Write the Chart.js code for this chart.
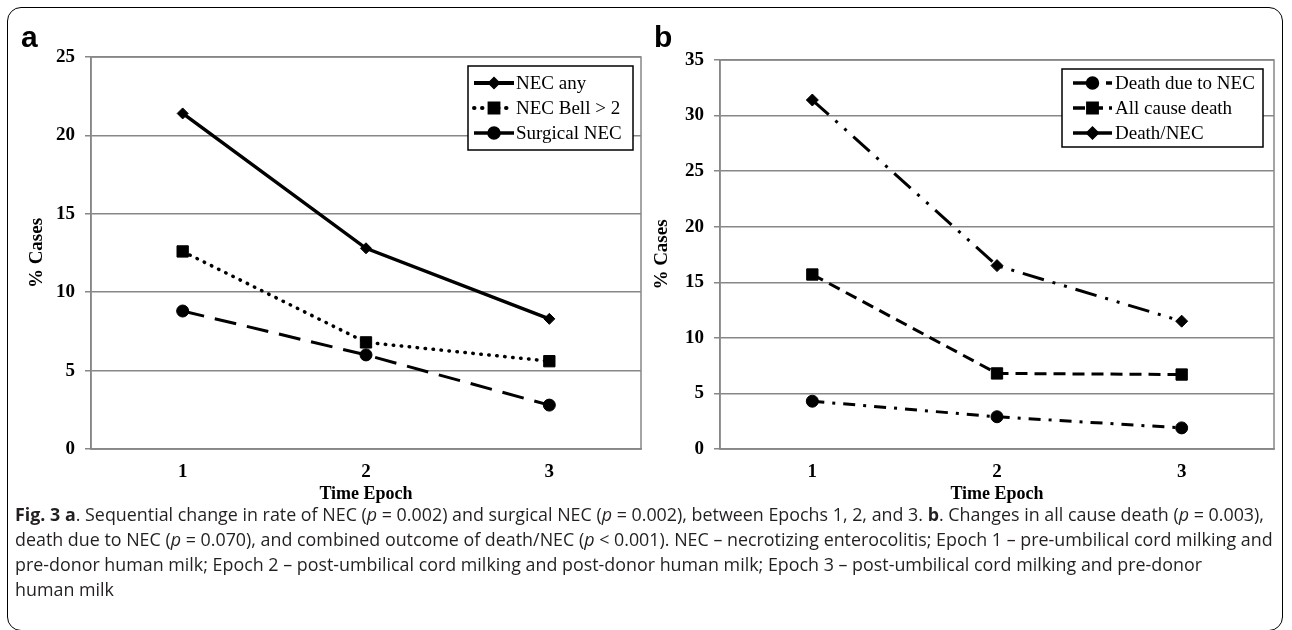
<!DOCTYPE html>
<html><head><meta charset="utf-8">
<script src="https://cdn.jsdelivr.net/npm/chart.js@4/dist/chart.umd.min.js"></script>
<style>
html,body{margin:0;padding:0;background:#fff;}
body{width:1292px;height:630px;position:relative;overflow:hidden;}
#frame{position:absolute;left:7px;top:7px;width:1276px;height:624px;border:1.5px solid #000;border-radius:14px;box-sizing:border-box;}
.panel{position:absolute;font-family:"Liberation Sans",Arial,sans-serif;font-weight:bold;font-size:30px;line-height:30px;}
#cA{position:absolute;left:0;top:0;}
#cB{position:absolute;left:630px;top:0;}
#caption{position:absolute;left:15px;top:502px;font-family:"Open Sans",sans-serif;font-size:17.5px;line-height:25px;color:#231f20;white-space:nowrap;transform-origin:0 0;}
#caption div{white-space:nowrap;}
#caption b{font-weight:700;}
</style></head>
<body>
<div id="frame"></div>
<canvas id="cA" width="650" height="510"></canvas>
<canvas id="cB" width="662" height="510"></canvas>
<div class="panel" style="left:21px;top:22px;">a</div>
<div class="panel" style="left:654px;top:22px;">b</div>
<div id="caption">
<div><span id="l1"><b>Fig. 3 a</b>. Sequential change in rate of NEC (<i>p</i> = 0.002) and surgical NEC (<i>p</i> = 0.002), between Epochs 1, 2, and 3. <b>b</b>. Changes in all cause death (<i>p</i> = 0.003),</span></div>
<div>death due to NEC (<i>p</i> = 0.070), and combined outcome of death/NEC (<i>p</i> &lt; 0.001). NEC – necrotizing enterocolitis; Epoch 1 – pre-umbilical cord milking and</div>
<div>pre-donor human milk; Epoch 2 – post-umbilical cord milking and post-donor human milk; Epoch 3 – post-umbilical cord milking and pre-donor</div>
<div>human milk</div>
</div>
<script>
// ---- data ----
const epochs = ['1', '2', '3'];
const necAny = [21.4, 12.8, 8.3];
const necBell = [12.6, 6.8, 5.6];
const surgicalNec = [8.8, 6.0, 2.8];
const deathDueToNec = [4.3, 2.9, 1.9];
const allCauseDeath = [15.7, 6.8, 6.7];
const deathOrNec = [31.4, 16.5, 11.5];
const labelsA = ['NEC any', 'NEC Bell > 2', 'Surgical NEC'];
const labelsB = ['Death due to NEC', 'All cause death', 'Death/NEC'];
const yMaxA = 25, yMaxB = 35, yStep = 5;

Chart.defaults.font.family = '"Liberation Serif","Times New Roman",serif';
Chart.defaults.color = '#000';
const GRID = '#878787';

// condense caption horizontally to the reference line width
(function(){
  const l1 = document.getElementById('l1');
  const w = l1.getBoundingClientRect().width;
  const target = 1249;
  document.getElementById('caption').style.transform = 'scaleX(' + (target / w).toFixed(4) + ')';
})();

const plotPlugin = {
  id: 'plotDecor',
  beforeDatasetsDraw(chart) {
    const {ctx, chartArea: a} = chart;
    ctx.save();
    ctx.strokeStyle = GRID; ctx.lineWidth = 1.5;
    ctx.strokeRect(a.left, a.top, a.right - a.left, a.bottom - a.top);
    ctx.restore();
  },
  afterDraw(chart, args, opts) {
    const {ctx, chartArea: a} = chart;
    const bx = a.right - opts.dx, by = a.top + opts.dy;
    ctx.save();
    ctx.fillStyle = '#fff';
    ctx.fillRect(bx, by, opts.w, opts.h);
    ctx.strokeStyle = '#000'; ctx.lineWidth = 1.5;
    ctx.strokeRect(bx, by, opts.w, opts.h);
    chart.data.datasets.forEach((ds, i) => {
      const y = by + opts.firstRow + i * opts.rowH;
      const x0 = bx + opts.s0, x1 = bx + opts.s1, xm = (x0 + x1) / 2;
      ctx.save();
      ctx.strokeStyle = '#000';
      ctx.lineWidth = ds.borderWidth + 0.5;
      ctx.lineCap = ds.borderCapStyle || 'butt';
      ctx.setLineDash(ds.legendDash || ds.borderDash || []);
      ctx.beginPath(); ctx.moveTo(x0, y); ctx.lineTo(x1, y); ctx.stroke();
      ctx.restore();
      ctx.fillStyle = '#000'; ctx.strokeStyle = '#000';
      Chart.helpers.drawPoint(ctx, {pointStyle: ds.pointStyle, radius: ds.pointRadius, rotation: 0, borderWidth: 1}, xm, y);
      ctx.fillStyle = '#000';
      ctx.font = opts.font;
      ctx.textBaseline = 'middle';
      ctx.textAlign = 'left';
      ctx.fillText(ds.label, bx + opts.tx, y + 1);
    });
    ctx.restore();
  }
};

function ds(label, data, style, dash, width, radius, cap, legendDash) {
  return {label, data, borderColor: '#000', backgroundColor: '#000', borderWidth: width,
    borderDash: dash, borderCapStyle: cap || 'butt', pointStyle: style, pointRadius: radius,
    pointBackgroundColor: '#000', pointBorderColor: '#000', pointBorderWidth: 1,
    legendDash: legendDash, tension: 0, fill: false};
}

function scales(yMax, titlePad, yWidth) {
  return {
    x: {type: 'category', offset: true,
      grid: {display: false, drawTicks: false},
      border: {display: true, color: GRID, width: 1.5},
      ticks: {padding: 12, font: {size: 19, weight: 'bold'}, color: '#000'},
      title: {display: true, text: 'Time Epoch', color: '#000', font: {size: 18, weight: 'bold'}, padding: {top: 0, bottom: 0}},
      afterFit(s) { s.height = 56; }
    },
    y: {min: 0, max: yMax,
      ticks: {stepSize: yStep, padding: 10, font: {size: 19, weight: 'bold'}, color: '#000'},
      grid: {color: GRID, lineWidth: 1.5, tickLength: 6, drawTicks: true},
      border: {display: true, color: GRID, width: 1.5},
      title: {display: true, text: '% Cases', color: '#000', font: {size: 19, weight: 'bold'}, padding: {top: titlePad, bottom: 0}},
      afterFit(s) { s.width = yWidth; }
    }
  };
}

const common = {responsive: false, animation: false, events: [],
  plugins: {legend: {display: false}, tooltip: {enabled: false}}};

new Chart(document.getElementById('cA'), {
  type: 'line',
  data: {labels: epochs, datasets: [
    ds(labelsA[0], necAny, 'rectRot', [], 3.5, 5.5),
    ds(labelsA[1], necBell, 'rect', [0.5, 7.5], 3.5, 8, 'round', [0.5, 7.5]),
    ds(labelsA[2], surgicalNec, 'circle', [22, 11], 3, 6, 'butt', [])
  ]},
  options: Object.assign({}, common, {
    layout: {padding: {left: 0, top: 57, right: 6, bottom: 5}},
    scales: scales(yMaxA, 26, 91),
    plugins: Object.assign({}, common.plugins, {
      plotDecor: {dx: 173, dy: 9, w: 165, h: 84, firstRow: 17, rowH: 25, s0: 6, s1: 46, tx: 48, font: '19px "Liberation Serif", serif'}
    })
  }),
  plugins: [plotPlugin]
});

new Chart(document.getElementById('cB'), {
  type: 'line',
  data: {labels: epochs, datasets: [
    ds(labelsB[0], deathDueToNec, 'circle', [12, 8, 3, 8], 3, 6, 'butt', [14, 8, 3, 8]),
    ds(labelsB[1], allCauseDeath, 'rect', [12, 7], 3, 8, 'butt', [12, 6]),
    ds(labelsB[2], deathOrNec, 'rectRot', [22, 9, 3, 9, 3, 9], 3, 6, 'butt', [])
  ]},
  options: Object.assign({}, common, {
    layout: {padding: {left: 0, top: 60, right: 18, bottom: 5}},
    scales: scales(yMaxB, 21, 90),
    plugins: Object.assign({}, common.plugins, {
      plotDecor: {dx: 212, dy: 9, w: 201, h: 78, firstRow: 14, rowH: 25, s0: 11, s1: 50, tx: 53, font: '19px "Liberation Serif", serif'}
    })
  }),
  plugins: [plotPlugin]
});
</script>
</body></html>
